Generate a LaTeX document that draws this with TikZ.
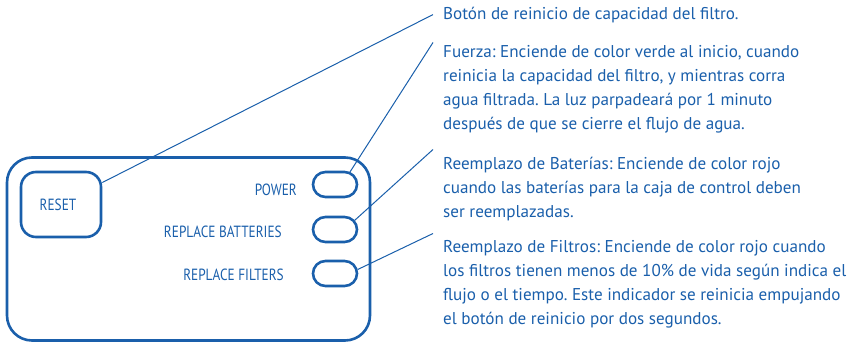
\documentclass[tikz,border=0pt]{standalone}
\usepackage{fontspec}
\setmainfont{PT Sans}
\newfontfamily\narrowfont[FakeStretch=0.82]{PT Sans}
\usetikzlibrary{positioning,shapes.misc}
\definecolor{panelblue}{HTML}{1A5FAB}
\frenchspacing

\begin{document}
\begin{tikzpicture}[x=1pt, y=-1pt,
  panel/.style={draw=panelblue, line width=2.6pt, rounded corners=25pt, inner sep=0pt},
  keybox/.style={draw=panelblue, line width=2.6pt, rounded corners=15pt, inner sep=0pt,
                 minimum width=80pt, minimum height=65pt},
  led/.style={draw=panelblue, line width=2.6pt, rounded rectangle, inner sep=0pt,
              minimum width=44pt, minimum height=25pt},
  tag/.style={text=panelblue, font=\narrowfont\fontsize{16.2}{18}\selectfont, inner sep=0pt},
  note/.style={text=panelblue, font=\fontsize{17.1}{24}\selectfont, align=left,
               inner sep=0pt, anchor=north west},
  lead/.style={draw=panelblue, line width=1pt},
]
  \useasboundingbox (0,0) rectangle (847,342);

  % ── Control panel ─────────────────
  \node[panel, minimum width=363pt, minimum height=183pt] (panel) at (188.5,249) {};
  \node[keybox] (reset) at (61,204.5) {};
  \node[tag] (rst) at ([xshift=-3pt]reset.center) {RESET};

  \node[led] (pw) at (335,184.5) {};
  \node[led] (bat) at (335,229.5) {};
  \node[led] (flt) at (335,273.5) {};
  \node[tag, anchor=east] (pwt) at (297,190) {POWER};
  \node[tag, anchor=east] (batt) at (282,232) {REPLACE BATTERIES};
  \node[tag, anchor=east] (fltt) at (284,275) {REPLACE FILTERS};

  % ── Notes ─────────────────────────
  \node[note] (bt) at (443,6.5) {Botón de reinicio de capacidad del filtro.};
  \node[note] (fz) at (443,45.5) {Fuerza: Enciende de color verde al inicio, cuando\\
    reinicia la capacidad del filtro, y mientras corra\\
    agua filtrada. La luz parpadeará por 1 minuto\\
    después de que se cierre el flujo de agua.};
  \node[note] (rb) at (443,156.5) {Reemplazo de Baterías: Enciende de color rojo\\
    cuando las baterías para la caja de control deben\\
    ser reemplazadas.};
  \node[note] (rf) at (443,240.5) {Reemplazo de Filtros: Enciende de color rojo cuando\\
    los filtros tienen menos de 10\% de vida según indica el\\
    flujo o el tiempo. Este indicador se reinicia empujando\\
    el botón de reinicio por dos segundos.};

  % ── Leaders ───────────────────────
  \draw[lead] (reset.28) -- ([xshift=-10pt]bt.west);
  \draw[lead] (pw.40) -- ([shift={(-10pt,3pt)}]fz.north west);
  \draw[lead] (bat.25) -- ([shift={(-10pt,7pt)}]rb.north west);
  \draw[lead] (flt.10) -- ([shift={(-10pt,7pt)}]rf.north west);
\end{tikzpicture}
\end{document}
